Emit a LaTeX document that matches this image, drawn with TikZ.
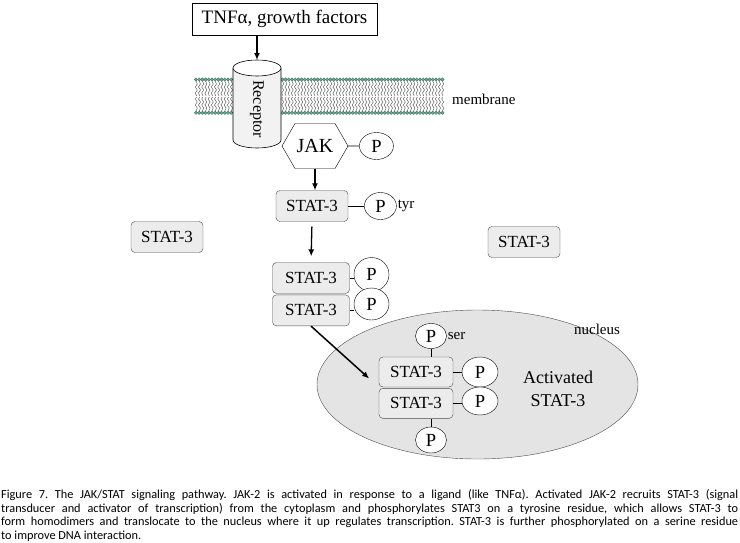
\documentclass[tikz,border=0pt]{standalone}
\usepackage{fontspec}
\setmainfont{Liberation Serif}
\newfontfamily\capfont{Carlito}
\usetikzlibrary{positioning,shapes.geometric,shapes.symbols,arrows.meta}
\definecolor{lipidhead}{RGB}{66,146,118}
\definecolor{statfill}{RGB}{236,236,236}
\definecolor{nucfill}{RGB}{228,228,228}

\begin{document}
\frenchspacing
\begin{tikzpicture}[x=1pt, y=-1pt,
  stat/.style={draw=black!70, rounded corners=4pt, fill=statfill, minimum width=72pt,
    minimum height=31pt, inner sep=0pt, font=\fontsize{17}{17}\selectfont},
  phos/.style={draw, ellipse, fill=white, inner sep=0pt, minimum width=34pt,
    minimum height=27pt, font=\fontsize{18.5}{18.5}\selectfont},
  tag/.style={font=\fontsize{15}{15}\selectfont, inner sep=0pt},
  link/.style={line width=0.7pt},
  >={Latex[length=7pt,width=6pt]}
]
\useasboundingbox (0,0) rectangle (740,542);

% Membrane bilayer
\foreach \x in {196,199.2,...,445} {
  \draw[gray!70!black, line width=0.45pt] (\x,81) -- (\x+1.3,84) -- (\x-0.7,87) -- (\x+1.3,90)
    -- (\x-0.7,93) -- (\x+0.6,96);
  \draw[gray!70!black, line width=0.45pt] (\x,111) -- (\x+1.3,108) -- (\x-0.7,105) -- (\x+1.3,102)
    -- (\x-0.7,99) -- (\x+0.6,97);
  \filldraw[fill=lipidhead!75, draw=lipidhead!70!black, line width=0.3pt] (\x,79.5) circle (1.7);
  \filldraw[fill=lipidhead!75, draw=lipidhead!70!black, line width=0.3pt] (\x,112.8) circle (1.7);
}
\node[tag, anchor=west] (memlabel) at (452,99) {membrane};

% Ligand and receptor
\node[draw, line width=0.8pt, minimum width=185pt, minimum height=32pt, inner sep=0pt,
  font=\fontsize{19}{19}\selectfont] (ligand) at (284.5,19) {TNFα, growth factors};
\filldraw[fill=gray!10, draw=black, line width=0.6pt] (233,68) -- (233,140)
  arc[start angle=180, end angle=0, x radius=24, y radius=8] -- (281,68);
\filldraw[fill=white, draw=black, line width=0.6pt] (257,68) ellipse [x radius=24, y radius=8];
\coordinate (rectop) at (257,60);
\node[rotate=-90, font=\fontsize{16}{16}\selectfont] (reclabel) at (257,109) {Receptor};
\draw[->, line width=1.3pt] (rectop |- ligand.south) -- (rectop);

% JAK
\node[draw, signal, signal to=east and west, signal pointer angle=120, fill=white,
  minimum width=66pt, minimum height=45pt, inner sep=0pt,
  font=\fontsize{20}{20}\selectfont] (jak) at (315,146) {JAK};
\node[phos, right=11pt of jak] (pjak) {P};
\draw[link] (jak) -- (pjak);

% STAT-3 phosphorylated on tyrosine
\node[stat] (stattyr) at (312,206) {STAT-3};
\node[phos, minimum width=32pt, minimum height=27pt, right=16pt of stattyr] (ptyr) {P};
\node[tag, right=1pt of ptyr] (tyr) {tyr};
\draw[link] (stattyr) -- (ptyr);
\draw[->, line width=1.3pt] (jak.south) -- (jak.south |- stattyr.north);

% free STAT-3 in the cytoplasm
\node[stat] (statleft) at (167,237) {STAT-3};
\node[stat] (statright) at (524,242) {STAT-3};

% Dimer
\node[stat, minimum width=77pt] (dimtop) at (311,278) {STAT-3};
\node[stat, minimum width=77pt, below=1pt of dimtop] (dimbot) {STAT-3};
\node[phos, minimum width=35pt, minimum height=34pt] (pdimtop) at (371.5,274.5) {P};
\node[phos, minimum width=35pt, minimum height=32pt] (pdimbot) at (371.5,304) {P};
\draw[link] (dimtop.east) -- (dimtop.east -| pdimtop.west);
\draw[link] (dimbot.east) -- (dimbot.east -| pdimbot.west);
\draw[->, line width=1.3pt, shorten <=5pt, shorten >=6pt] (stattyr.south) -- (dimtop.north);

% Nucleus
\node[draw=black!70, ellipse, fill=nucfill, minimum width=321pt, minimum height=149pt]
  (nucleus) at (477.5,384.5) {};
\node[tag] (nuclabel) at (597,329) {nucleus};
\node[stat, minimum width=74pt, minimum height=30pt] (nstattop) at (416,372) {STAT-3};
\node[stat, minimum width=74pt, minimum height=30pt, below=1pt of nstattop] (nstatbot) {STAT-3};
\node[phos, minimum width=36pt, minimum height=30pt] (pntop) at (480,372) {P};
\node[phos, minimum width=36pt, minimum height=28pt] (pnbot) at (480,401) {P};
\node[phos, minimum width=31pt, minimum height=25pt] (pser) at (431,336) {P};
\node[tag, right=1pt of pser] (ser) {ser};
\node[phos, minimum width=31pt, minimum height=26pt] (pnlow) at (431,440) {P};
\draw[link] (nstattop.east) -- (nstattop.east -| pntop.west);
\draw[link] (nstatbot.east) -- (nstatbot.east -| pnbot.west);
\draw[link] (pser.south) -- (pser.south |- nstattop.north);
\draw[link] (pnlow.north) -- (pnlow.north |- nstatbot.south);
\node[align=center, font=\fontsize{18}{23}\selectfont] (activated) at (558,388.5)
  {Activated\\STAT-3};
\draw[->, line width=1.5pt, shorten >=13pt] (dimbot.south) -- (nstattop.south west);

% Caption
\node[anchor=north west, text width=737pt, inner sep=0pt, align=justify,
  font=\capfont\fontsize{12.3}{13.8}\selectfont] (caption) at (1,489)
  {Figure 7. The JAK/STAT signaling pathway. JAK-2 is activated in response to a ligand (like TNFα). Activated JAK-2 recruits STAT-3 (signal\linebreak
   transducer and activator of transcription) from the cytoplasm and phosphorylates STAT3 on a tyrosine residue, which allows STAT-3 to\linebreak
   form homodimers and translocate to the nucleus where it up regulates transcription. STAT-3 is further phosphorylated on a serine residue\linebreak
   to improve DNA interaction.};

\end{tikzpicture}
\end{document}
